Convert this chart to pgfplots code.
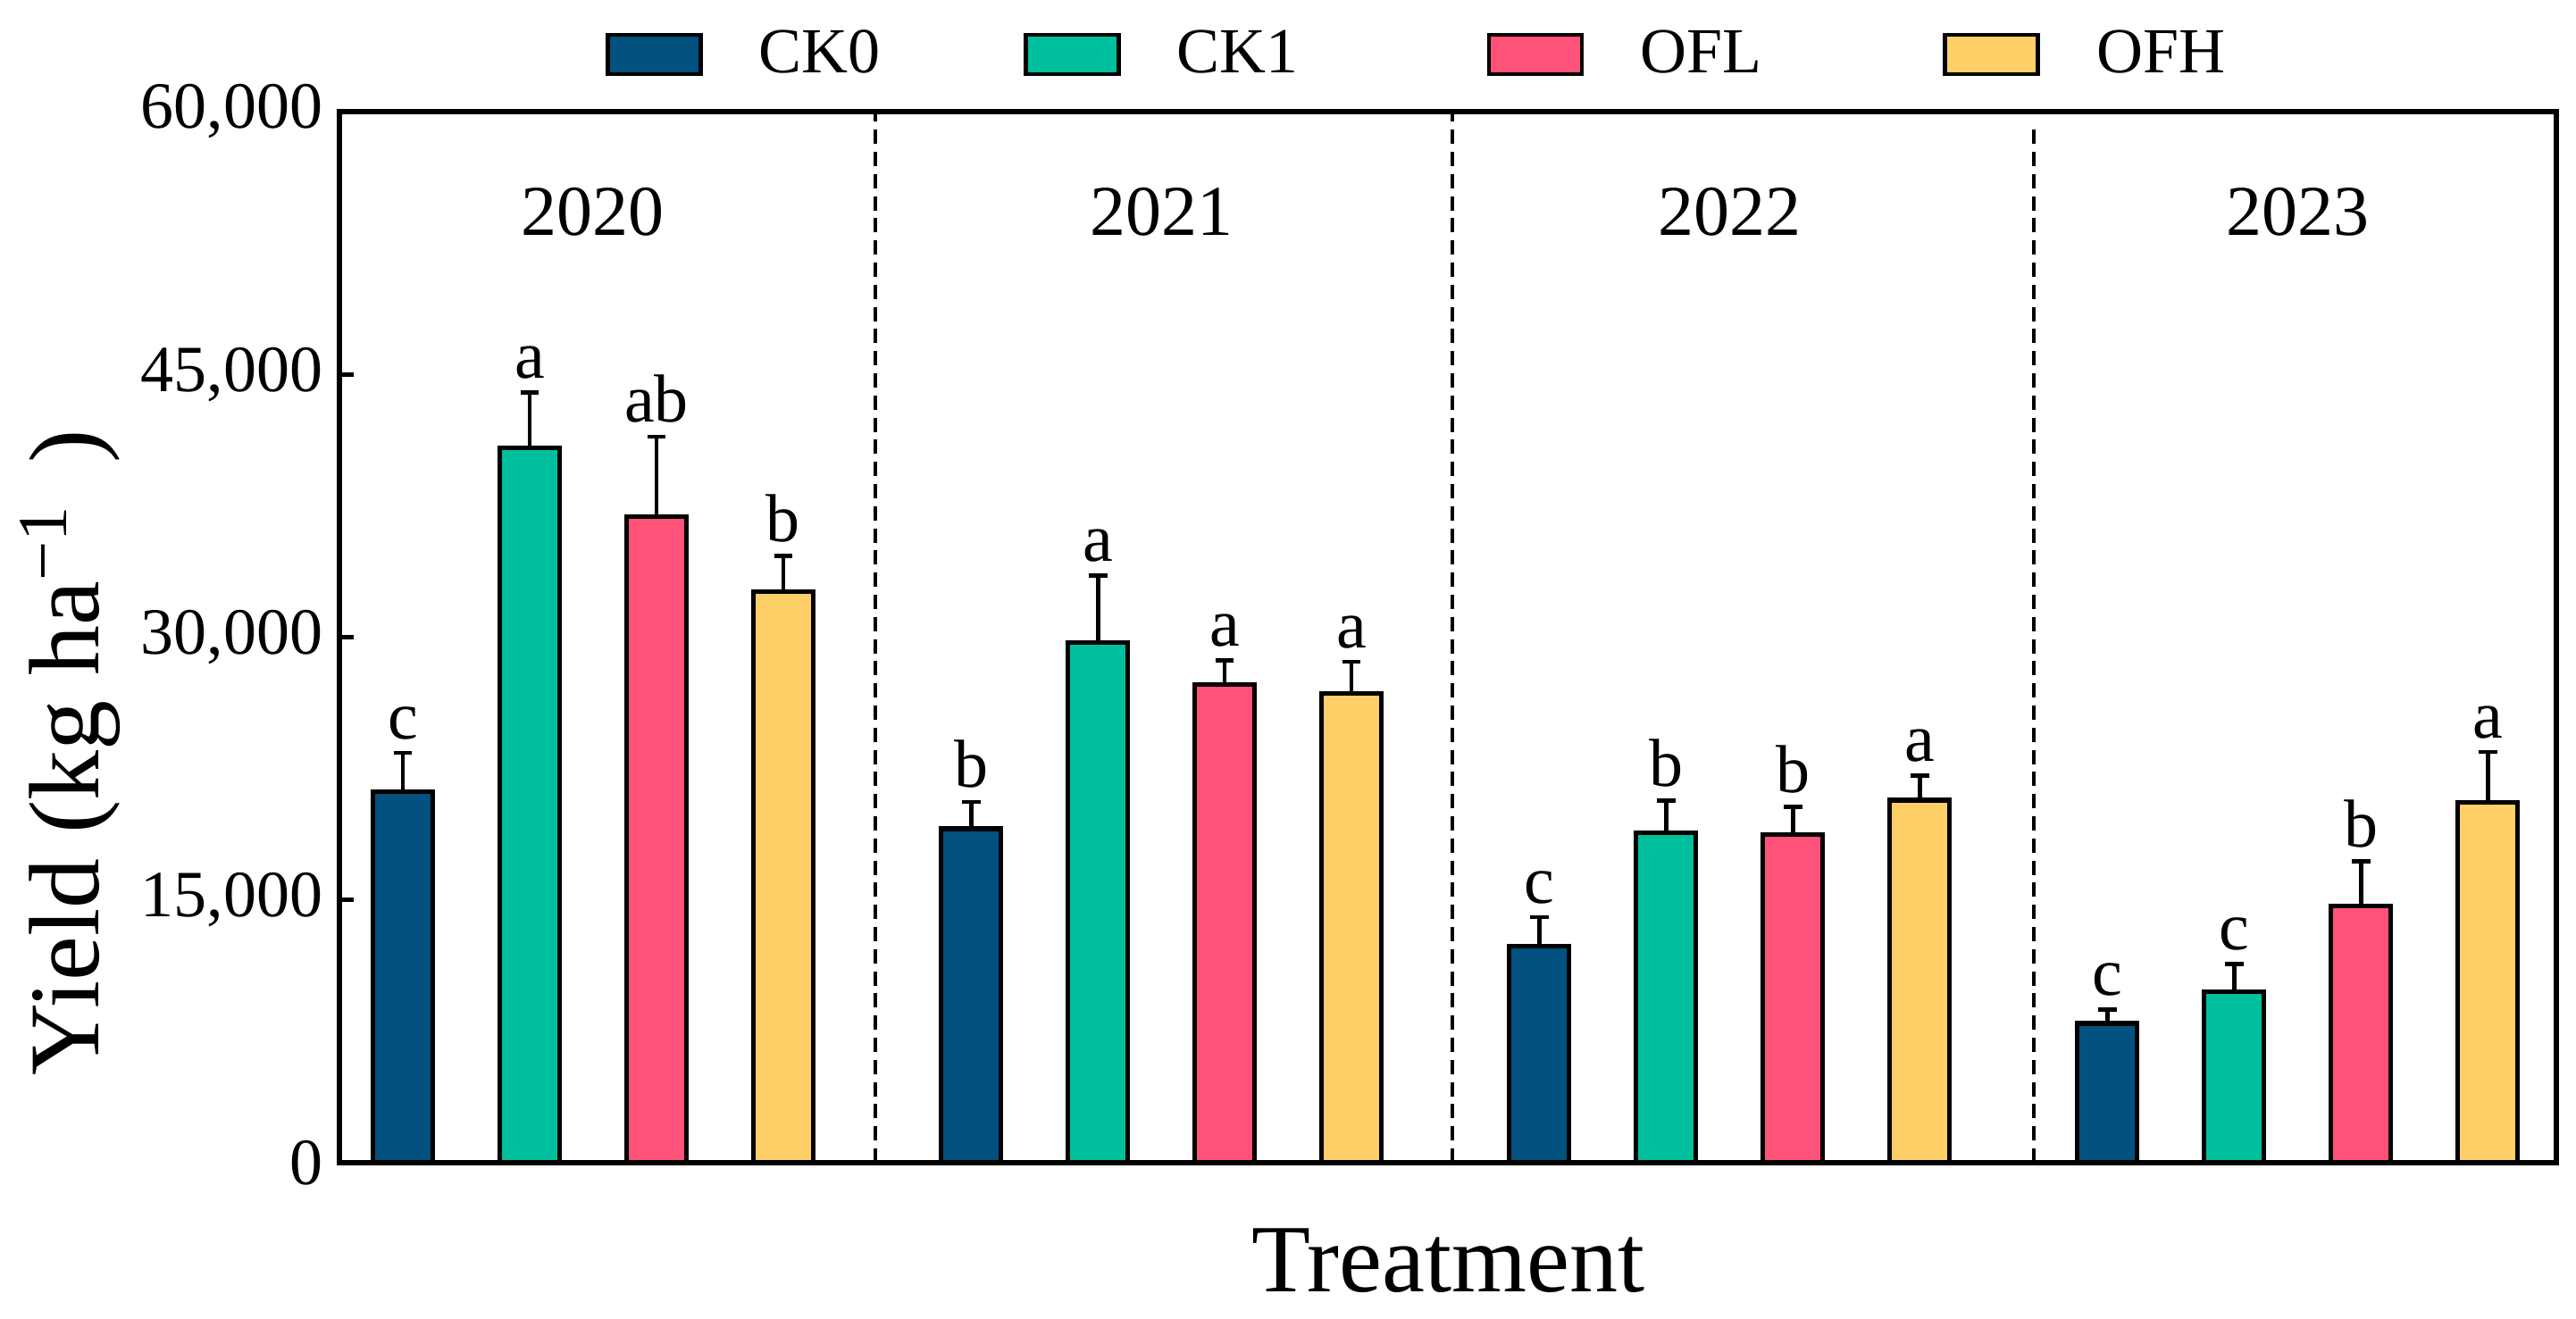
\documentclass[border=0pt]{standalone}
\usepackage{pgfplots}
\usepackage{pgfplotstable}
\pgfplotsset{compat=1.18}
\usepackage{fontspec}
\setmainfont{Liberation Serif}

\definecolor{ckzero}{RGB}{3,81,127}
\definecolor{ckone}{RGB}{0,191,156}
\definecolor{ofl}{RGB}{255,82,120}
\definecolor{ofh}{RGB}{254,207,102}

% x = position of the bar, y = yield, e = error, l = letter
\pgfplotstableread{
x y e l
0 21200 2200 c
4.48 19070 1530 b
8.96 12350 1670 c
13.44 7950 800 c
}\ckzerodata
\pgfplotstableread{
x y e l
1 40800 3150 a
5.48 29700 3800 a
9.96 18840 1820 b
14.44 9750 1580 c
}\ckonedata
\pgfplotstableread{
x y e l
2 36900 4550 ab
6.48 27290 1400 a
10.96 18720 1580 b
15.44 14650 2550 b
}\ofldata
\pgfplotstableread{
x y e l
3 32580 2050 b
7.48 26800 1800 a
11.96 20700 1400 a
16.44 20580 2870 a
}\ofhdata

\pgfplotsset{
  treat/.style={
    ybar, bar shift=0pt, bar width=0.472,
    fill=#1, draw=black, line width=1.3pt,
    error bars/.cd,
      y dir=plus, y explicit,
      error mark=-,
      error bar style={line width=1.2pt, black},
      error mark options={rotate=90, line width=1.2pt, mark size=2.6pt, black},
  },
  letters/.style={
    ybar, bar shift=0pt, bar width=0.472, draw=none, fill=none,
    forget plot, point meta=explicit symbolic,
    nodes near coords,
    nodes near coords style={anchor=south, inner sep=0pt, yshift=3.6pt,
      font=\fontsize{19}{21}\selectfont, black},
  },
}

\begin{document}
\begin{tikzpicture}
\useasboundingbox (-95pt,-43.75pt) rectangle (626pt,325.5pt);
\begin{axis}[
  scale only axis,
  width=620.5pt, height=294.25pt,
  xmin=-0.5, xmax=16.98,
  ymin=0, ymax=60000,
  clip=false,
  xtick=\empty,
  ytick={0,15000,30000,45000,60000},
  ytick pos=left,
  tick align=inside,
  major tick length=4pt,
  tick style={line width=1.2pt, black},
  axis line style={line width=1.5pt},
  scaled y ticks=false,
  /pgf/number format/.cd, 1000 sep={,}, assume math mode=true,
  /pgfplots/.cd,
  yticklabel style={font=\fontsize{18.5}{20}\selectfont, inner sep=0pt, xshift=-4.5pt},
  xlabel={Treatment},
  ylabel={Yield (kg ha\textsuperscript{−1}\, )},
  every axis x label/.style={at={(axis description cs:0.5,0)}, anchor=center,
    yshift=-27.5pt, font=\fontsize{27}{30}\selectfont},
  every axis y label/.style={at={(axis description cs:-0.1213,0.39)}, anchor=center,
    rotate=90, font=\fontsize{28}{30}\selectfont},
  legend columns=4,
  legend style={at={(axis description cs:0.1197,1.0544)}, anchor=west,
    draw=none, fill=none, inner sep=0pt,
    font=\fontsize{18}{20}\selectfont,
    nodes={inner sep=0pt},
    /tikz/every odd column/.append style={column sep=15.75pt},
    /tikz/every even column/.append style={column sep=0pt}},
  legend cell align=left,
  legend image code/.code={\draw[#1, line width=1.2pt] (0pt,-5.5pt) rectangle (26pt,5.5pt);},
]

\addplot[treat=ckzero] table[x=x, y=y, y error=e] {\ckzerodata};
\addlegendentry{\makebox[74pt][l]{CK0}}
\addplot[treat=ckone] table[x=x, y=y, y error=e] {\ckonedata};
\addlegendentry{\makebox[86.75pt][l]{CK1}}
\addplot[treat=ofl] table[x=x, y=y, y error=e] {\ofldata};
\addlegendentry{\makebox[84.75pt][l]{OFL}}
\addplot[treat=ofh] table[x=x, y=y, y error=e] {\ofhdata};
\addlegendentry{OFH}

\addplot[letters] table[x=x, y expr=\thisrow{y}+\thisrow{e}, meta=l] {\ckzerodata};
\addplot[letters] table[x=x, y expr=\thisrow{y}+\thisrow{e}, meta=l] {\ckonedata};
\addplot[letters] table[x=x, y expr=\thisrow{y}+\thisrow{e}, meta=l] {\ofldata};
\addplot[letters] table[x=x, y expr=\thisrow{y}+\thisrow{e}, meta=l] {\ofhdata};

% year separators
\draw[dash pattern=on 4pt off 2.2pt, line width=1.1pt] (axis cs:3.725,0) -- (axis cs:3.725,60000);
\draw[dash pattern=on 4pt off 2.2pt, line width=1.1pt] (axis cs:8.275,0) -- (axis cs:8.275,60000);
\draw[dash pattern=on 4pt off 2.2pt, line width=1.1pt] (axis cs:12.86,0) -- (axis cs:12.86,59000);

\node[font=\fontsize{20}{22}\selectfont] at (axis cs:1.5,54300) {2020};
\node[font=\fontsize{20}{22}\selectfont] at (axis cs:5.98,54300) {2021};
\node[font=\fontsize{20}{22}\selectfont] at (axis cs:10.46,54300) {2022};
\node[font=\fontsize{20}{22}\selectfont] at (axis cs:14.94,54300) {2023};

\end{axis}
\end{tikzpicture}
\end{document}
